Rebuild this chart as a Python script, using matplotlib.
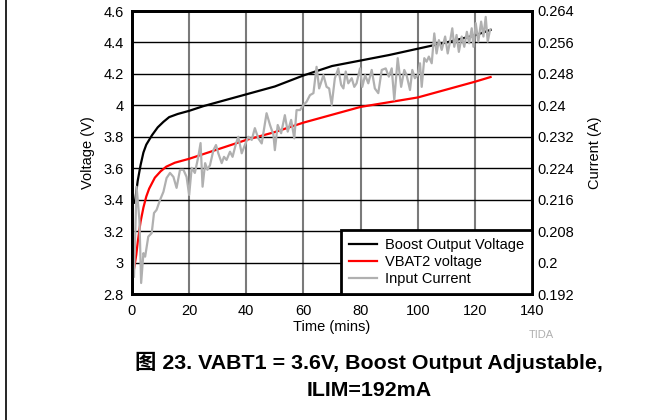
import matplotlib.pyplot as plt
from matplotlib.ticker import FuncFormatter

plt.rcParams['font.family'] = ['Liberation Sans', 'Noto Sans CJK SC', 'DejaVu Sans']

# Boost Output Voltage (V)
t_boost = [1, 2, 3, 4, 5, 7, 9, 11, 13, 16, 20, 25, 30, 40, 50, 60, 70, 80,
           90, 100, 110, 120, 125.5]
v_boost = [3.38, 3.52, 3.62, 3.70, 3.75, 3.81, 3.86, 3.895, 3.925, 3.945, 3.965,
           3.995, 4.02, 4.07, 4.12, 4.19, 4.25, 4.285, 4.32, 4.36, 4.40, 4.445, 4.48]

# VBAT2 voltage (V)
t_vbat = [0.7, 1.5, 2, 3, 4, 5, 6, 8, 10, 12, 15, 20, 30, 40, 50, 60, 70, 80,
          90, 100, 110, 120, 125.5]
v_vbat = [2.96, 3.05, 3.13, 3.26, 3.35, 3.42, 3.47, 3.54, 3.58, 3.61, 3.635, 3.66,
          3.72, 3.78, 3.83, 3.89, 3.94, 3.99, 4.02, 4.05, 4.10, 4.15, 4.18]

# Input Current (A)
t_cur = [0.7, 1.6, 2.6, 3.2, 4.0, 4.6, 5.7, 6.9, 7.7, 8.6, 9.8, 11.0, 12.1, 13.3,
         14.5, 15.6, 16.8, 18.0, 19.1, 20.0, 20.9, 22.0, 23.2, 24.0, 24.7, 25.6,
         26.4, 27.3, 28.5, 29.4, 30.2, 31.4, 32.2, 33.1, 34.3, 35.2, 36.4, 37.2,
         38.4, 39.5, 40.7, 41.9, 43.0, 44.2, 45.4, 47.1, 48.3, 49.5, 50.0, 51.0,
         52.2, 53.5, 54.5, 55.7, 56.8, 57.6, 58.8, 60.0, 61.1, 62.3, 63.5, 64.6,
         65.5, 67.0, 68.1, 69.0, 69.9, 71.0, 72.2, 73.2, 74.0, 74.8, 75.7, 76.9,
         77.8, 78.6, 79.8, 80.6, 81.6, 82.7, 83.9, 85.0, 86.2, 87.4, 88.8, 89.9,
         90.9, 91.8, 93.0, 94.2, 95.3, 96.1, 97.3, 98.1, 99.0, 100.0, 100.8, 101.4,
         102.3, 103.1, 103.9, 104.9, 105.8, 106.6, 107.4, 108.4, 109.6, 110.5,
         111.3, 112.1, 112.8, 113.6, 114.4, 115.4, 116.3, 117.2, 118.0, 118.9,
         119.5, 120.3, 121.2, 122.2, 123.0, 123.8, 124.5, 125.3]
i_cur = [0.1964, 0.2193, 0.2108, 0.1948, 0.2024, 0.2015, 0.2066, 0.2075, 0.2126,
         0.2134, 0.2159, 0.2180, 0.2215, 0.2228, 0.2218, 0.2190, 0.2236, 0.2236,
         0.2218, 0.2172, 0.2241, 0.2228, 0.2269, 0.2304, 0.2193, 0.2253, 0.2236,
         0.2248, 0.2286, 0.2299, 0.2278, 0.2253, 0.2269, 0.2261, 0.2282, 0.2269,
         0.2303, 0.2320, 0.2278, 0.2299, 0.2320, 0.2312, 0.2342, 0.2316, 0.2303,
         0.2380, 0.2350, 0.2325, 0.2286, 0.2350, 0.2329, 0.2375, 0.2333, 0.2363,
         0.2316, 0.2388, 0.2388, 0.2401, 0.2409, 0.2426, 0.2431, 0.2498, 0.2443,
         0.2477, 0.2447, 0.2443, 0.2401, 0.2469, 0.2494, 0.2452, 0.2443, 0.2486,
         0.2456, 0.2469, 0.2447, 0.2456, 0.2494, 0.2447, 0.2477, 0.2456, 0.2490,
         0.2443, 0.2431, 0.2490, 0.2494, 0.2473, 0.2494, 0.2414, 0.2520, 0.2447,
         0.2490, 0.2477, 0.2439, 0.2490, 0.2469, 0.2477, 0.2507, 0.2447, 0.2520,
         0.2511, 0.2524, 0.2507, 0.2583, 0.2532, 0.2566, 0.2541, 0.2575, 0.2532,
         0.2562, 0.2596, 0.2549, 0.2579, 0.2536, 0.2575, 0.2549, 0.2587, 0.2558,
         0.2596, 0.2549, 0.2609, 0.2562, 0.2613, 0.2575, 0.2625, 0.2562, 0.2592]

v_ticks = [2.8, 3.0, 3.2, 3.4, 3.6, 3.8, 4.0, 4.2, 4.4, 4.6]
i_ticks = [0.192, 0.2, 0.208, 0.216, 0.224, 0.232, 0.24, 0.248, 0.256, 0.264]
x_ticks = [0, 20, 40, 60, 80, 100, 120, 140]

fs = 10.5

fig = plt.figure(figsize=(6.68, 4.2), dpi=100)
ax = fig.add_axes([132 / 668, 1 - 294 / 420, 400 / 668, 283 / 420])
ax2 = ax.twinx()

# グリッド(縦はグレー、横は黒)
for x in x_ticks[1:-1]:
    ax.axvline(x, color='#7a7a7a', lw=1.5, zorder=0)
for v in v_ticks[1:-1]:
    ax.axhline(v, color='black', lw=1, zorder=0)

l1, = ax.plot(t_boost, v_boost, color='black', lw=1.6, label='Boost Output Voltage')
l2, = ax.plot(t_vbat, v_vbat, color='#ff0000', lw=1.6, label='VBAT2 voltage')
l3, = ax2.plot(t_cur, i_cur, color='#b0b0b0', lw=1.6, label='Input Current')

ax.set_xlim(0, 140)
ax.set_ylim(2.8, 4.6)
ax2.set_ylim(0.192, 0.264)
ax.set_xticks(x_ticks)
ax.set_yticks(v_ticks)
ax2.set_yticks(i_ticks)
g = FuncFormatter(lambda v, p: f'{v:g}')
ax.yaxis.set_major_formatter(g)
ax2.yaxis.set_major_formatter(g)

ax.tick_params(axis='y', length=0, labelsize=fs, pad=6)
ax.tick_params(axis='x', length=0, labelsize=fs, pad=7)
ax2.tick_params(axis='y', length=0, labelsize=fs, pad=4)
for a in (ax, ax2):
    for s in a.spines.values():
        s.set_linewidth(2)

ax.set_xlabel('Time (mins)', fontsize=fs, labelpad=2)
ax.set_ylabel('Voltage (V)', fontsize=fs, labelpad=6)
ax2.set_ylabel('Current (A)', fontsize=fs, labelpad=10)

leg = ax2.legend(handles=[l1, l2, l3], loc='lower right', fontsize=fs,
                 frameon=True, fancybox=False, borderaxespad=0,
                 handlelength=1.9, handletextpad=0.55, labelspacing=0.2,
                 borderpad=0.55)
leg.get_frame().set_edgecolor('black')
leg.get_frame().set_linewidth(2)
leg.get_frame().set_alpha(1)

fig.text(541 / 668, 1 - 335 / 420, 'TIDA', fontsize=8, color='#b0b0b0',
         ha='center', va='center')
fig.text(369 / 668, 1 - 362 / 420, '图 23. VABT1 = 3.6V, Boost Output Adjustable,',
         fontsize=15.4, fontweight='bold', ha='center', va='center')
fig.text(369 / 668, 1 - 390 / 420, 'ILIM=192mA',
         fontsize=15.4, fontweight='bold', ha='center', va='center')

# 左端の枠線
fig.add_artist(plt.Line2D([6 / 668, 6 / 668], [0, 1], color='black', lw=1.2,
                          transform=fig.transFigure))

plt.savefig('out.png', dpi=100)
plt.close()
